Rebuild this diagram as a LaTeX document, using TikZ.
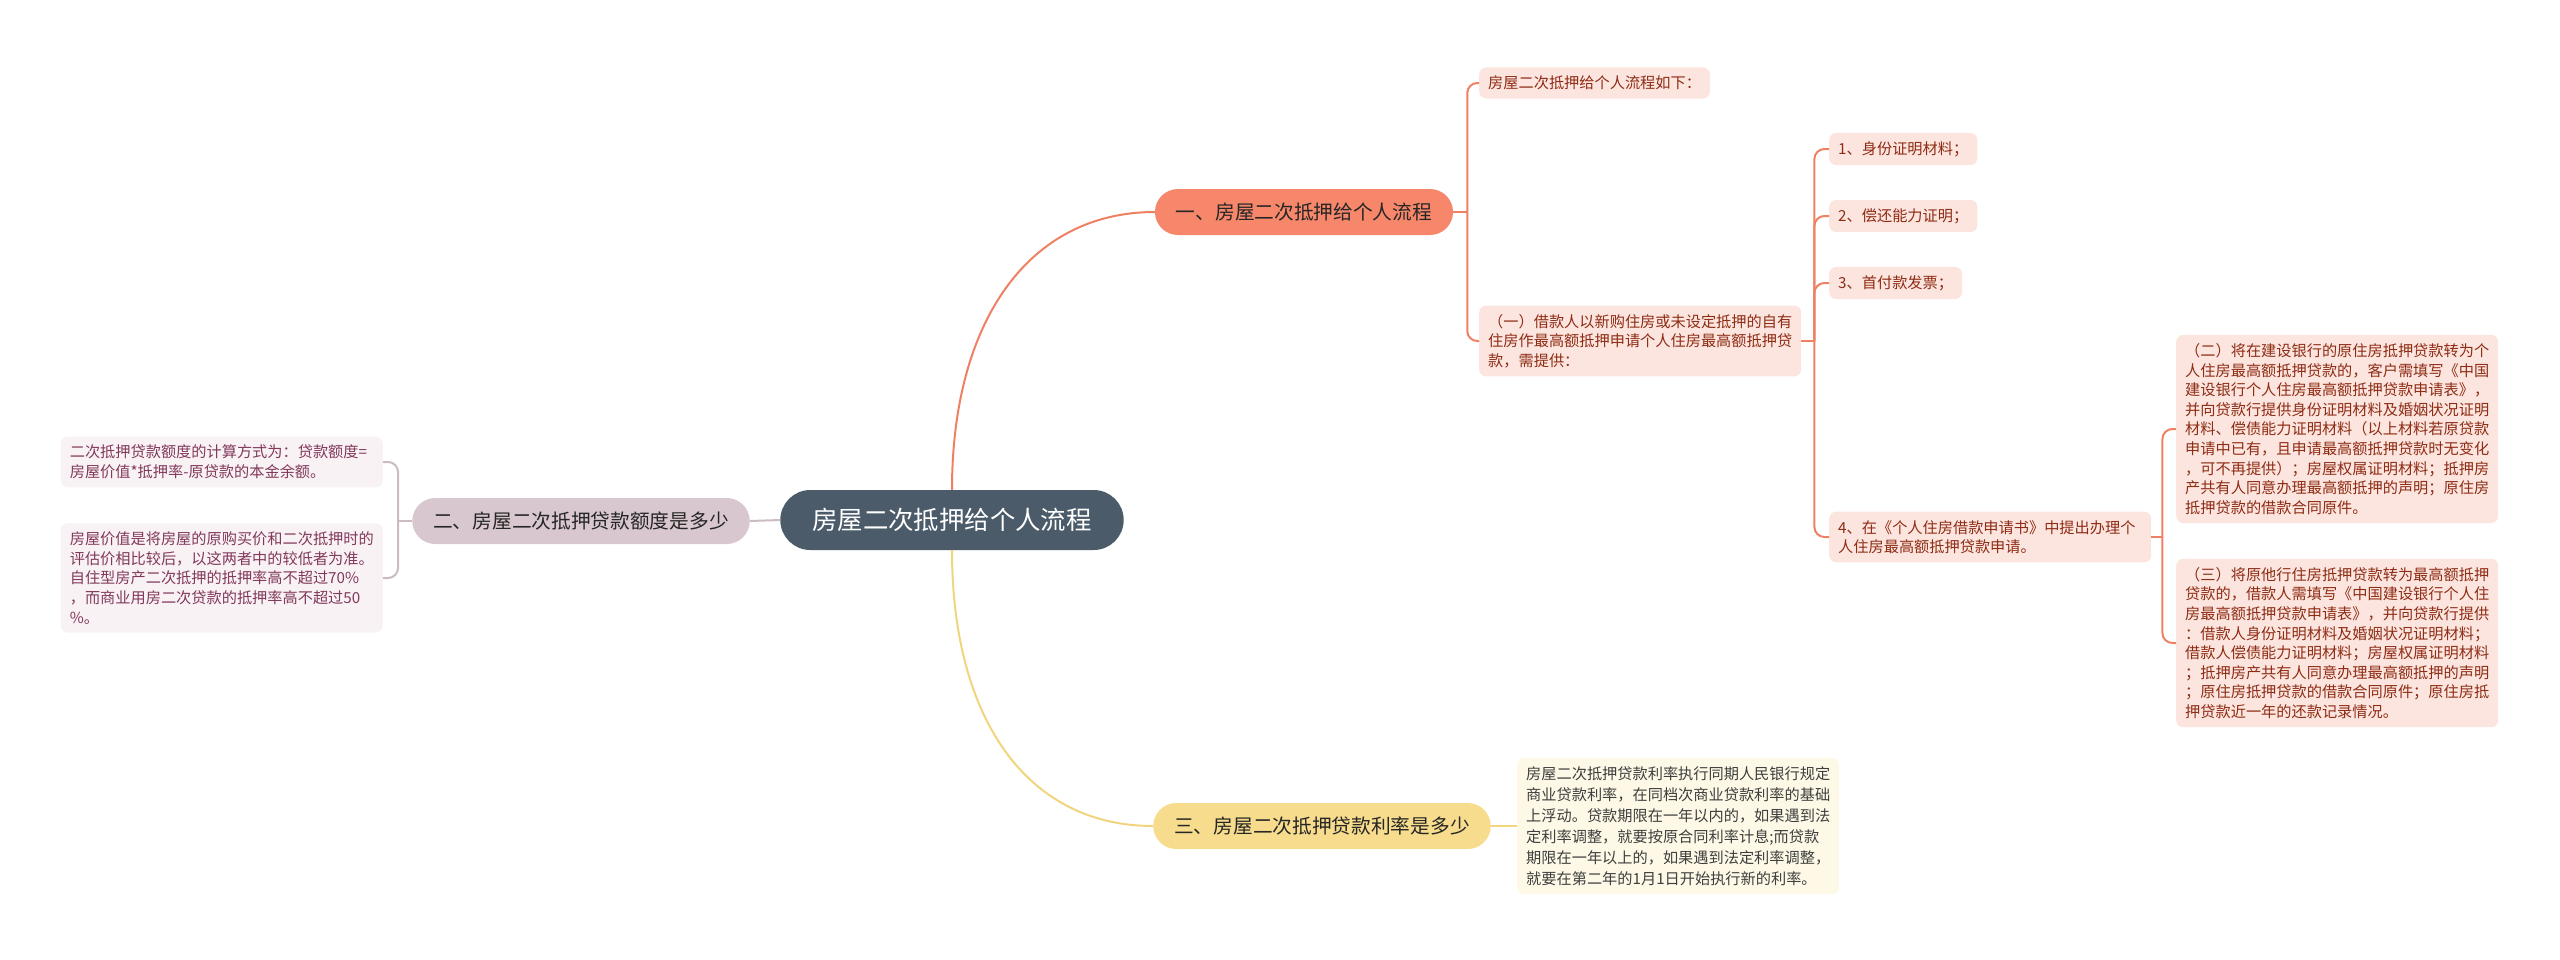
\documentclass[tikz,border=0pt]{standalone}
\usepackage{fontspec}
\setmainfont{Noto Sans CJK SC}
\usetikzlibrary{positioning}
\definecolor{rootfill}{HTML}{4B5B6A}
\definecolor{onefill}{HTML}{F6876A}
\definecolor{oneline}{HTML}{EE8063}
\definecolor{oneleaf}{HTML}{FCE5DF}
\definecolor{onetext}{HTML}{8E2C14}
\definecolor{twofill}{HTML}{D8C7CF}
\definecolor{twoline}{HTML}{CBBBC3}
\definecolor{twoleaf}{HTML}{F8F2F4}
\definecolor{twotext}{HTML}{82395B}
\definecolor{threefill}{HTML}{F6DC8C}
\definecolor{threeline}{HTML}{F1D57E}
\definecolor{threeleaf}{HTML}{FEF9E7}
\definecolor{threetext}{HTML}{3E3E3E}

\begin{document}
\begin{tikzpicture}[x=1pt, y=-1pt,
  root/.style={fill=rootfill, text=white, rounded corners=30pt, minimum height=60pt,
    inner xsep=32pt, font=\fontsize{25.4}{30}\selectfont},
  topic/.style={rounded corners=23pt, minimum height=46pt, inner xsep=21pt,
    text=black!85, font=\fontsize{19.7}{24}\selectfont},
  leaf/.style={rounded corners=7pt, inner xsep=9pt, inner ysep=8.5pt, align=left,
    font=\fontsize{15.2}{19.6}\selectfont},
  wide/.style={text width=304pt},
  leafone/.style={leaf, fill=oneleaf, text=onetext},
  leaftwo/.style={leaf, fill=twoleaf, text=twotext},
  leafthree/.style={leaf, fill=threeleaf, text=threetext, font=\fontsize{15.2}{21}\selectfont},
  lone/.style={draw=oneline, line width=2pt, rounded corners=10pt},
  ltwo/.style={draw=twoline, line width=2pt, rounded corners=10pt},
  lthree/.style={draw=threeline, line width=2pt}]
  \useasboundingbox (0,0) rectangle (2560,959);

  % centre and main topics
  \node[root] (root) at (952,520) {房屋二次抵押给个人流程};
  \node[topic, fill=onefill] (b1) at (1304,212) {一、房屋二次抵押给个人流程};
  \node[topic, fill=twofill] (b2) at (581,521) {二、房屋二次抵押贷款额度是多少};
  \node[topic, fill=threefill] (b3) at (1322,826) {三、房屋二次抵押贷款利率是多少};

  \draw[lone] (root.north) .. controls +(0,-170) and +(-125,0) .. (b1.west);
  \draw[ltwo] (root.west) -- (b2.east);
  \draw[lthree] (root.south) .. controls +(0,170) and +(-125,0) .. (b3.west);

  % first topic
  \node[leafone, anchor=west] (s1) at (1479,83) {房屋二次抵押给个人流程如下：};
  \node[leafone, wide, anchor=west] (s2) at (1479,341)
    {（一）借款人以新购住房或未设定抵押的自有\\住房作最高额抵押申请个人住房最高额抵押贷\\款，需提供：};
  \node[leafone, anchor=west] (i1) at (1829,149) {1、身份证明材料；};
  \node[leafone, anchor=west] (i2) at (1829,216) {2、偿还能力证明；};
  \node[leafone, anchor=west] (i3) at (1829,283) {3、首付款发票；};
  \node[leafone, wide, anchor=west] (i4) at (1829,537)
    {4、在《个人住房借款申请书》中提出办理个\\人住房最高额抵押贷款申请。};
  \node[leafone, wide, anchor=west] (c2) at (2176,429)
    {（二）将在建设银行的原住房抵押贷款转为个\\人住房最高额抵押贷款的，客户需填写《中国\\建设银行个人住房最高额抵押贷款申请表》，\\并向贷款行提供身份证明材料及婚姻状况证明\\材料、偿债能力证明材料（以上材料若原贷款\\申请中已有，且申请最高额抵押贷款时无变化\\，可不再提供）；房屋权属证明材料；抵押房\\产共有人同意办理最高额抵押的声明；原住房\\抵押贷款的借款合同原件。};
  \node[leafone, wide, anchor=west] (c3) at (2176,643)
    {（三）将原他行住房抵押贷款转为最高额抵押\\贷款的，借款人需填写《中国建设银行个人住\\房最高额抵押贷款申请表》，并向贷款行提供\\：借款人身份证明材料及婚姻状况证明材料；\\借款人偿债能力证明材料；房屋权属证明材料\\；抵押房产共有人同意办理最高额抵押的声明\\；原住房抵押贷款的借款合同原件；原住房抵\\押贷款近一年的还款记录情况。};

  \coordinate (j1) at ([xshift=14pt]b1.east);
  \draw[lone] (b1.east) -- (j1);
  \draw[lone] (j1) |- (s1.west);
  \draw[lone] (j1) |- (s2.west);
  \coordinate (j2) at ([xshift=13pt]s2.east);
  \draw[lone] (s2.east) -- (j2);
  \foreach \n in {i1,i2,i3,i4}
    \draw[lone] (j2) |- (\n.west);
  \coordinate (j3) at ([xshift=11pt]i4.east);
  \draw[lone] (i4.east) -- (j3);
  \foreach \n in {c2,c3}
    \draw[lone] (j3) |- (\n.west);

  % second topic
  \node[leaftwo, wide, anchor=east] (m1) at (383,462)
    {二次抵押贷款额度的计算方式为：贷款额度=\\房屋价值*抵押率-原贷款的本金余额。};
  \node[leaftwo, wide, anchor=east] (m2) at (383,578)
    {房屋价值是将房屋的原购买价和二次抵押时的\\评估价相比较后，以这两者中的较低者为准。\\自住型房产二次抵押的抵押率高不超过70\%\\，而商业用房二次贷款的抵押率高不超过50\\\%。};
  \coordinate (j4) at ([xshift=-14pt]b2.west);
  \draw[ltwo] (b2.west) -- (j4);
  \foreach \n in {m1,m2}
    \draw[ltwo] (j4) |- (\n.east);

  % third topic
  \node[leafthree, wide, anchor=west] (t1) at (1517,826)
    {房屋二次抵押贷款利率执行同期人民银行规定\\商业贷款利率，在同档次商业贷款利率的基础\\上浮动。贷款期限在一年以内的，如果遇到法\\定利率调整，就要按原合同利率计息;而贷款\\期限在一年以上的，如果遇到法定利率调整，\\就要在第二年的1月1日开始执行新的利率。};
  \draw[lthree] (b3.east) -- (t1.west);
\end{tikzpicture}
\end{document}
